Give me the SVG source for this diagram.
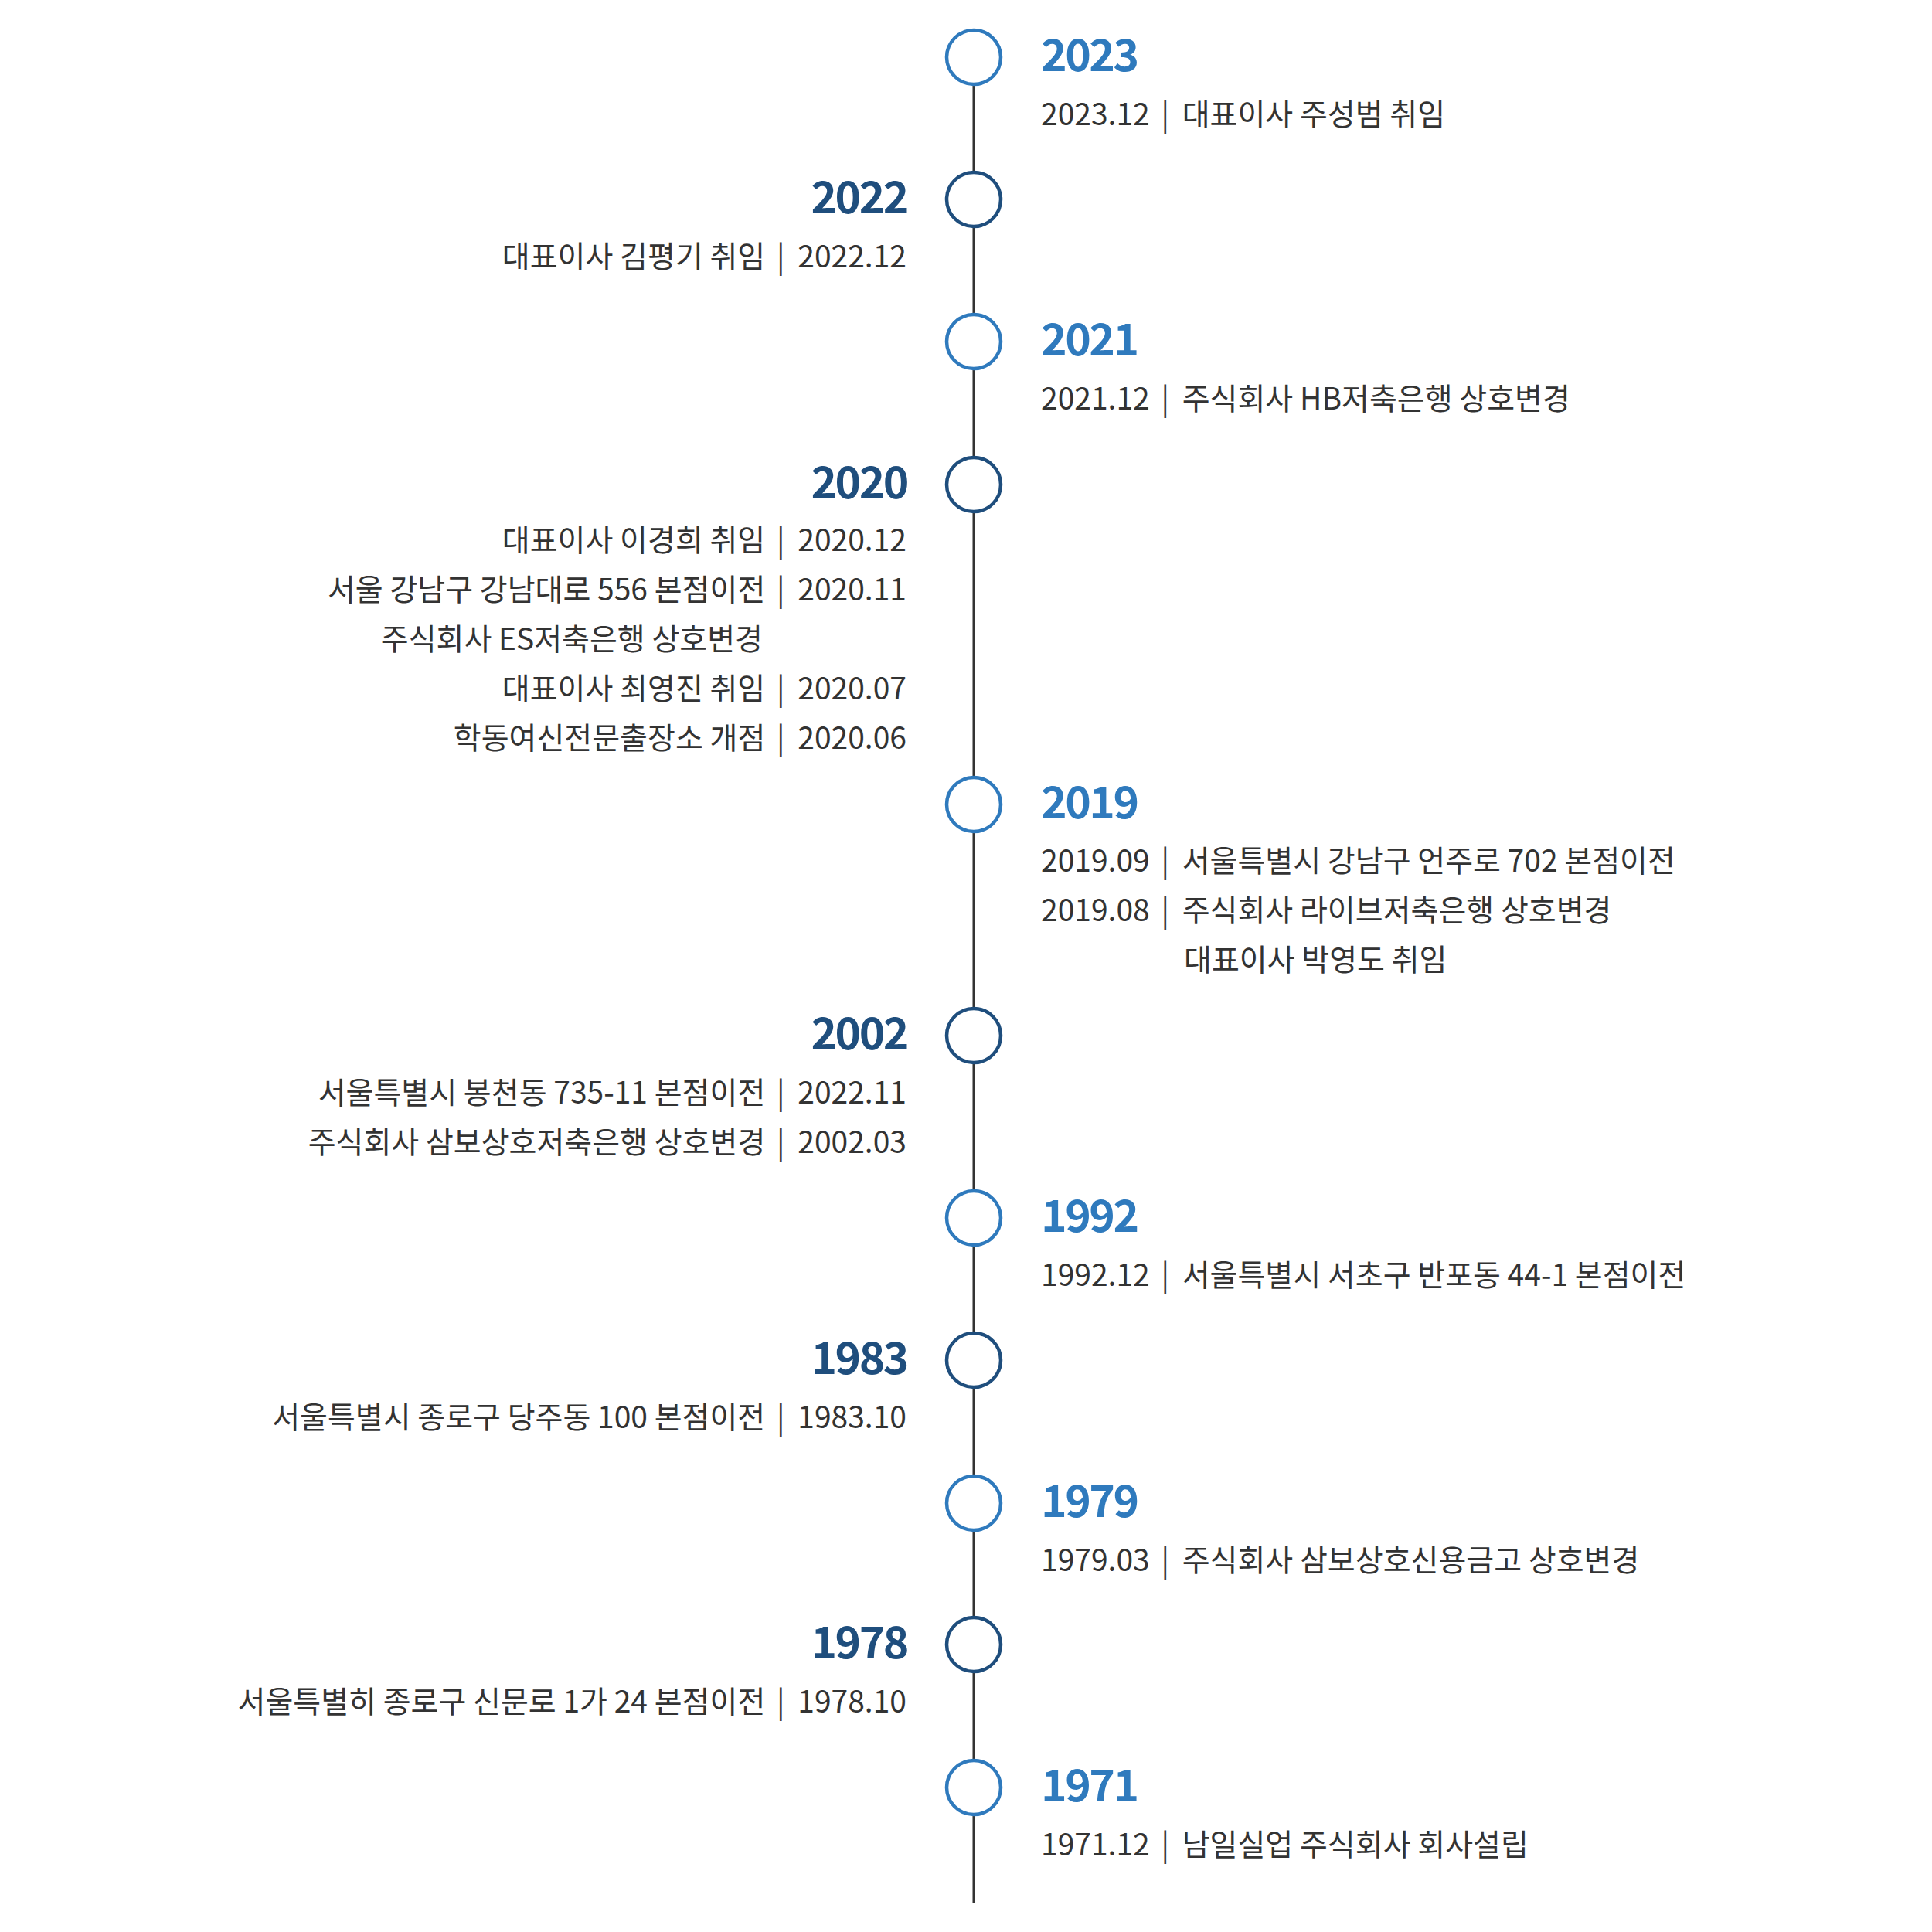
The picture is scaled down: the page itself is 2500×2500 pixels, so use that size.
<svg xmlns="http://www.w3.org/2000/svg" width="2500" height="2500" viewBox="0 0 2500 2500">
<style>
.bg{fill:#ffffff}
.spine{stroke:#333333;stroke-width:3;fill:none}
.dot{fill:#ffffff;stroke-width:4.5}
.lt{stroke:#2f7abd}
.dk{stroke:#1f4e7d}
.yr{font-family:"Noto Sans CJK KR","Noto Sans",sans-serif;font-weight:700;font-size:57px;letter-spacing:-2.5px}
.yl{fill:#2f7abd}
.yd{fill:#1f4e7d}
.tx{font-family:"Noto Sans CJK KR","Noto Sans",sans-serif;font-weight:400;font-size:39px;fill:#333333}
.r{text-anchor:start}
.l{text-anchor:end}
</style>
<rect class="bg" x="0" y="0" width="2500" height="2500"/>
<g id="connectors">
<line class="spine" x1="1260" y1="111" x2="1260" y2="2462"/>
</g>
<g id="n2023"><circle class="dot lt" cx="1260" cy="74" r="35"/><text class="yr yl r" x="1347" y="92">2023</text><text class="tx r" x="1347" y="162">2023.12<tspan dx="6"> | </tspan><tspan dx="8">대표이사 주성범 취임</tspan></text></g>
<g id="n2022"><circle class="dot dk" cx="1260" cy="258" r="35"/><text class="yr yd l" x="1174" y="276">2022</text><text class="tx l" x="1173" y="346">대표이사 김평기 취임<tspan dx="6"> | </tspan><tspan dx="8">2022.12</tspan></text></g>
<g id="n2021"><circle class="dot lt" cx="1260" cy="442" r="35"/><text class="yr yl r" x="1347" y="460">2021</text><text class="tx r" x="1347" y="530">2021.12<tspan dx="6"> | </tspan><tspan dx="8">주식회사 HB저축은행 상호변경</tspan></text></g>
<g id="n2020"><circle class="dot dk" cx="1260" cy="627" r="35"/><text class="yr yd l" x="1174" y="645">2020</text>
<text class="tx l" x="1173" y="713">대표이사 이경희 취임<tspan dx="6"> | </tspan><tspan dx="8">2020.12</tspan></text>
<text class="tx l" x="1173" y="777">서울 강남구 강남대로 556 본점이전<tspan dx="6"> | </tspan><tspan dx="8">2020.11</tspan></text>
<text class="tx l" x="987" y="841">주식회사 ES저축은행 상호변경</text>
<text class="tx l" x="1173" y="905">대표이사 최영진 취임<tspan dx="6"> | </tspan><tspan dx="8">2020.07</tspan></text>
<text class="tx l" x="1173" y="969">학동여신전문출장소 개점<tspan dx="6"> | </tspan><tspan dx="8">2020.06</tspan></text></g>
<g id="n2019"><circle class="dot lt" cx="1260" cy="1041" r="35"/><text class="yr yl r" x="1347" y="1059">2019</text>
<text class="tx r" x="1347" y="1128">2019.09<tspan dx="6"> | </tspan><tspan dx="8">서울특별시 강남구 언주로 702 본점이전</tspan></text>
<text class="tx r" x="1347" y="1192">2019.08<tspan dx="6"> | </tspan><tspan dx="8">주식회사 라이브저축은행 상호변경</tspan></text>
<text class="tx r" x="1532" y="1256">대표이사 박영도 취임</text></g>
<g id="n2002"><circle class="dot dk" cx="1260" cy="1340" r="35"/><text class="yr yd l" x="1174" y="1358">2002</text>
<text class="tx l" x="1173" y="1428">서울특별시 봉천동 735-11 본점이전<tspan dx="6"> | </tspan><tspan dx="8">2022.11</tspan></text>
<text class="tx l" x="1173" y="1492">주식회사 삼보상호저축은행 상호변경<tspan dx="6"> | </tspan><tspan dx="8">2002.03</tspan></text></g>
<g id="n1992"><circle class="dot lt" cx="1260" cy="1576" r="35"/><text class="yr yl r" x="1347" y="1594">1992</text><text class="tx r" x="1347" y="1664">1992.12<tspan dx="6"> | </tspan><tspan dx="8">서울특별시 서초구 반포동 44-1 본점이전</tspan></text></g>
<g id="n1983"><circle class="dot dk" cx="1260" cy="1760" r="35"/><text class="yr yd l" x="1174" y="1778">1983</text><text class="tx l" x="1173" y="1848">서울특별시 종로구 당주동 100 본점이전<tspan dx="6"> | </tspan><tspan dx="8">1983.10</tspan></text></g>
<g id="n1979"><circle class="dot lt" cx="1260" cy="1945" r="35"/><text class="yr yl r" x="1347" y="1963">1979</text><text class="tx r" x="1347" y="2033">1979.03<tspan dx="6"> | </tspan><tspan dx="8">주식회사 삼보상호신용금고 상호변경</tspan></text></g>
<g id="n1978"><circle class="dot dk" cx="1260" cy="2128" r="35"/><text class="yr yd l" x="1174" y="2146">1978</text><text class="tx l" x="1173" y="2216">서울특별히 종로구 신문로 1가 24 본점이전<tspan dx="6"> | </tspan><tspan dx="8">1978.10</tspan></text></g>
<g id="n1971"><circle class="dot lt" cx="1260" cy="2313" r="35"/><text class="yr yl r" x="1347" y="2331">1971</text><text class="tx r" x="1347" y="2401">1971.12<tspan dx="6"> | </tspan><tspan dx="8">남일실업 주식회사 회사설립</tspan></text></g>
</svg>
